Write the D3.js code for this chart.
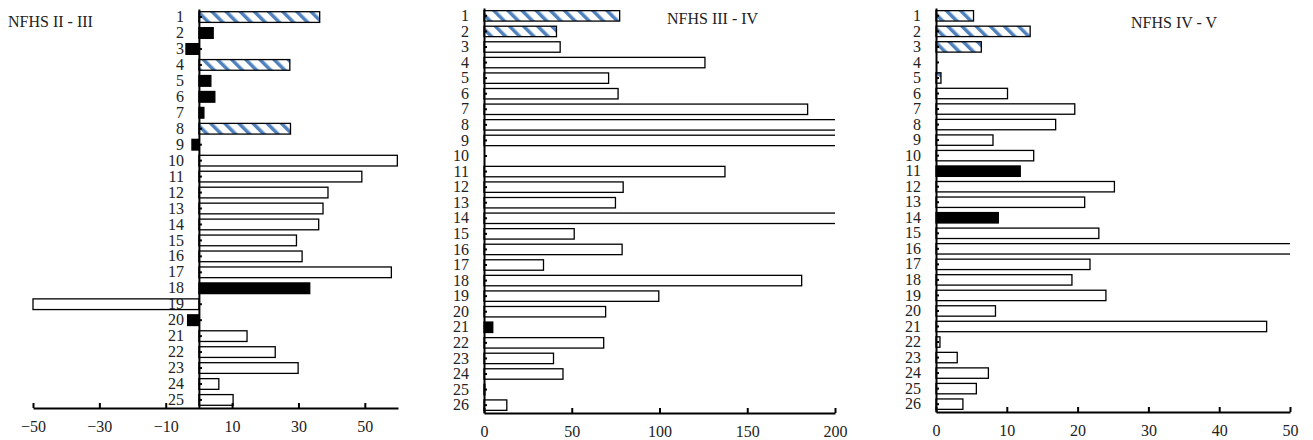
<!DOCTYPE html>
<html>
<head>
<meta charset="utf-8">
<script src="https://cdn.jsdelivr.net/npm/d3@7"></script>
<style>
  body { margin: 0; background: #fff; }
  svg text { font-family: "Liberation Serif", "DejaVu Serif", serif; fill: #222; }
</style>
</head>
<body>
<div id="chart"></div>
<script>
// Panel data. Type: h = hatched (blue stripes), b = solid black, w = white
const titles = ['NFHS II - III', 'NFHS III - IV', 'NFHS IV - V'];

const cats1 = d3.range(1, 26);
const values1 = [36.4, 4.3, -3.9, 27.4, 3.6, 4.8, 1.5, 27.6, -2.1, 59.8,
                 49.1, 38.9, 37.4, 36.1, 29.4, 31.1, 58, 33.4, -50, -3.4,
                 14.5, 23, 29.9, 6, 10.3];
const types1 = ['h','b','b','h','b','b','b','h','b','w',
                'w','w','w','w','w','w','w','b','w','b',
                'w','w','w','w','w'];
const ticks1 = [-50, -30, -10, 10, 30, 50];

const cats2 = d3.range(1, 27);
const values2 = [77.3, 41.3, 43.4, 125.9, 71, 76.4, 184.4, 230, 230, 0,
                 137.3, 79.3, 74.9, 230, 51.4, 78.7, 33.9, 181, 99.6, 69.3,
                 5, 68.2, 39.6, 45, 0.5, 13];
const types2 = ['h','h','w','w','w','w','w','w','w','w',
                'w','w','w','w','w','w','w','w','w','w',
                'b','w','w','w','w','w'];
const ticks2 = [0, 50, 100, 150, 200];

const cats3 = d3.range(1, 27);
const values3 = [5.3, 13.3, 6.4, 0, 0.7, 10.1, 19.6, 16.9, 8.05, 13.8,
                 11.9, 25.2, 21, 8.8, 23, 55, 21.75, 19.2, 24, 8.4,
                 46.7, 0.56, 3, 7.4, 5.7, 3.8];
const types3 = ['h','h','h','w','h','w','w','w','w','w',
                'b','w','w','b','w','w','w','w','w','w',
                'w','w','w','w','w','w'];
const ticks3 = [0, 10, 20, 30, 40, 50];

const width = 1313, height = 440;
const svg = d3.select('#chart').append('svg')
  .attr('width', width).attr('height', height);

const defs = svg.append('defs');
const pat = defs.append('pattern')
  .attr('id', 'hatch')
  .attr('patternUnits', 'userSpaceOnUse')
  .attr('width', 10).attr('height', 10)
  .attr('patternTransform', 'rotate(-45)');
pat.append('rect').attr('width', 10).attr('height', 10).attr('fill', '#fff');
pat.append('rect').attr('width', 3.5).attr('height', 10).attr('fill', '#4f81bd');

const fills = { h: 'url(#hatch)', b: '#000', w: '#fff' };

function drawPanel(o) {
  const x = d3.scaleLinear().domain(o.domain).range(o.xRange);
  const y = d3.scaleBand().domain(o.cats).range(o.yRange).paddingInner(0.33).paddingOuter(0.17);
  const g = svg.append('g');

  defs.append('clipPath').attr('id', 'clip' + o.id)
    .append('rect')
    .attr('x', o.xRange[0] - 1).attr('y', o.yRange[0] - 2)
    .attr('width', o.xRange[1] - o.xRange[0] + 1)
    .attr('height', o.yRange[1] - o.yRange[0] + 4);

  const rows = o.cats.map((c, i) => ({ c: c, v: o.values[i], t: o.types[i] }));

  g.append('g').attr('clip-path', `url(#clip${o.id})`)
    .selectAll('rect')
    .data(rows.filter(d => d.v !== 0))
    .join('rect')
      .attr('x', d => x(Math.min(0, d.v)))
      .attr('y', d => y(d.c))
      .attr('width', d => Math.abs(x(d.v) - x(0)))
      .attr('height', y.bandwidth())
      .attr('fill', d => fills[d.t])
      .attr('stroke', '#000')
      .attr('stroke-width', 1.3);

  // x axis
  const xa = g.append('g')
    .attr('transform', `translate(0,${o.yRange[1]})`)
    .call(d3.axisBottom(x).tickValues(o.ticks).tickSize(-5).tickPadding(13).tickSizeOuter(0));
  xa.select('.domain').attr('stroke', '#000').attr('stroke-width', 2);
  xa.selectAll('.tick line').attr('stroke', '#000').attr('stroke-width', 2);
  xa.selectAll('.tick text').style('font-size', '16px');

  // y axis
  const ya = g.append('g')
    .attr('transform', `translate(${x(0)},0)`)
    .call(d3.axisLeft(y).tickSize(4).tickPadding(11).tickSizeOuter(0));
  ya.select('.domain').attr('stroke', '#000').attr('stroke-width', 2);
  ya.selectAll('.tick line').attr('stroke', '#000').attr('stroke-width', 2).attr('x2', 3);
  ya.selectAll('.tick text').style('font-size', '16px');

  g.append('text')
    .attr('x', o.titleX).attr('y', o.titleY)
    .style('font-size', '16px')
    .text(o.title);
}

drawPanel({ id: 1, cats: cats1, values: values1, types: types1, ticks: ticks1,
  domain: [-50, 60], xRange: [33, 398], yRange: [9, 408],
  title: titles[0], titleX: 8, titleY: 27 });
drawPanel({ id: 2, cats: cats2, values: values2, types: types2, ticks: ticks2,
  domain: [0, 200], xRange: [484, 835], yRange: [8, 413],
  title: titles[1], titleX: 667, titleY: 24 });
drawPanel({ id: 3, cats: cats3, values: values3, types: types3, ticks: ticks3,
  domain: [0, 50], xRange: [936, 1290], yRange: [8, 412],
  title: titles[2], titleX: 1131, titleY: 28 });
</script>
</body>
</html>
